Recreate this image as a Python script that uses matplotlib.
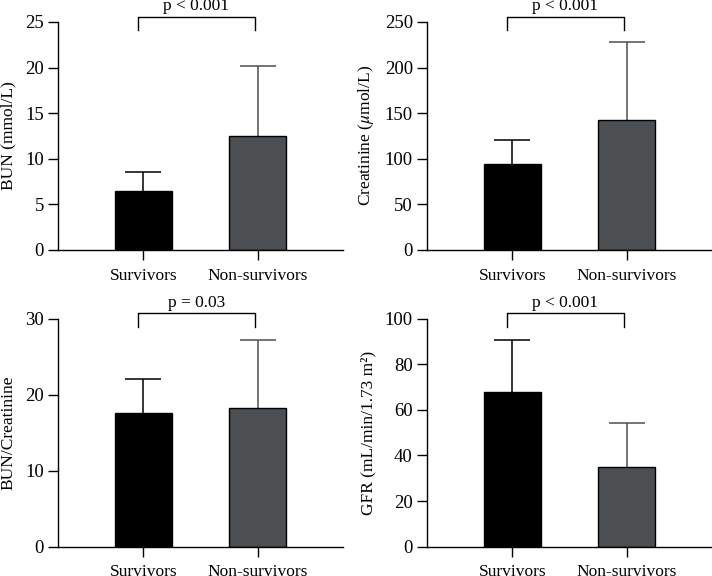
import matplotlib
matplotlib.use('Agg')
import matplotlib.pyplot as plt
import matplotlib.transforms as mtransforms

plt.rcParams['font.family'] = ['Liberation Serif', 'DejaVu Serif']
plt.rcParams['mathtext.fontset'] = 'stix'
plt.rcParams['font.size'] = 12.5

groups = ['Survivors', 'Non-survivors']

bun_mean = [6.5, 12.5]
bun_sd = [2.0, 7.7]

creat_mean = [94, 142]
creat_sd = [27, 86]

ratio_mean = [17.6, 18.2]
ratio_sd = [4.5, 9.0]

gfr_mean = [67.8, 35.1]
gfr_sd = [22.6, 19.3]

panels = [
    (bun_mean, bun_sd, 'BUN (mmol/L)', [0, 5, 10, 15, 20, 25], 'p < 0.001'),
    (creat_mean, creat_sd, r'Creatinine ($\mu$mol/L)', [0, 50, 100, 150, 200, 250], 'p < 0.001'),
    (ratio_mean, ratio_sd, 'BUN/Creatinine', [0, 10, 20, 30], 'p = 0.03'),
    (gfr_mean, gfr_sd, 'GFR (mL/min/1.73 m²)', [0, 20, 40, 60, 80, 100], 'p < 0.001'),
]

bar_colors = ['#000000', '#4b4f52']
# axes boxes in figure fractions [left, bottom, width, height]
boxes = [
    [0.0815, 0.566, 0.400, 0.396],
    [0.5997, 0.566, 0.400, 0.396],
    [0.0815, 0.051, 0.400, 0.396],
    [0.5997, 0.051, 0.400, 0.396],
]

fig = plt.figure(figsize=(7.12, 5.76), dpi=100)

for box, (mean, sd, ylabel, yticks, ptext) in zip(boxes, panels):
    ax = fig.add_axes(box)
    x = [0, 1]
    for i in range(2):
        eb = ax.errorbar(x[i], mean[i], yerr=[[0], [sd[i]]], fmt='none',
                         ecolor=bar_colors[i], elinewidth=1.1, capsize=13,
                         capthick=1.1, zorder=1)
        eb[1][0].set_visible(False)  # no lower cap
    ax.bar(x, mean, width=0.5, color=bar_colors, edgecolor='black',
           linewidth=1.0, zorder=2)
    ax.set_xlim(-0.745, 1.745)
    ax.set_ylim(yticks[0], yticks[-1])
    ax.set_yticks(yticks)
    ax.set_xticks(x)
    ax.set_xticklabels(groups)
    ax.set_ylabel(ylabel, labelpad=6)
    for s in ['top', 'right']:
        ax.spines[s].set_visible(False)
    for s in ['left', 'bottom']:
        ax.spines[s].set_linewidth(1.0)
    ax.tick_params(axis='both', direction='out', length=7.2, width=1.0)
    ax.tick_params(axis='x', pad=5.5)
    ax.tick_params(axis='y', pad=3, labelsize=13.5)

    # significance bracket
    trans = mtransforms.blended_transform_factory(ax.transData, ax.transAxes)
    x1, x2 = -0.045, 0.975
    ytop, ylow = 1.023, 0.965
    ax.plot([x1, x1, x2, x2], [ylow, ytop, ytop, ylow], color='black',
            linewidth=1.0, transform=trans, clip_on=False)
    ax.text(0.465, 1.052, ptext, transform=trans, ha='center',
            va='baseline', clip_on=False)

fig.savefig('out.png', dpi=100)
